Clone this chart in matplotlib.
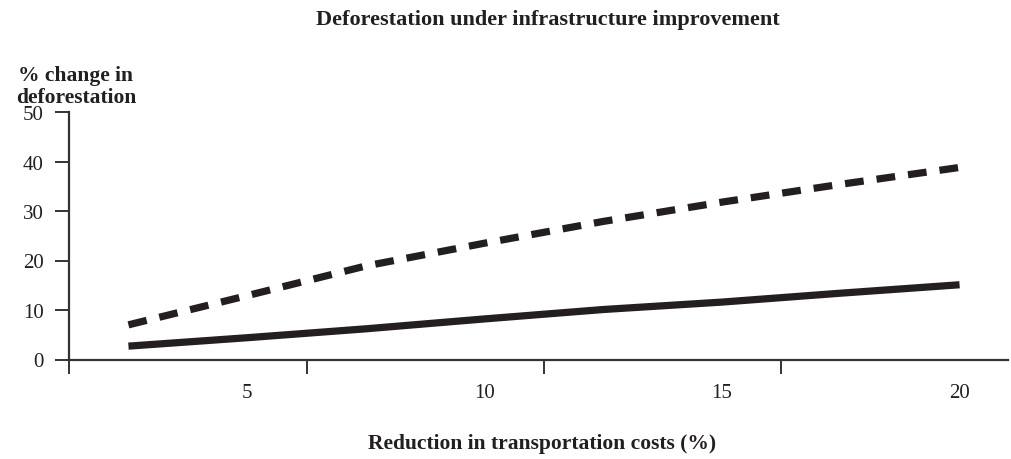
import matplotlib

matplotlib.use("Agg")
import matplotlib.pyplot as plt

# Data
reduction = [2.5, 5, 7.5, 10, 12.5, 15, 17.5, 20]
solid_change = [2.7, 4.4, 6.2, 8.2, 10.1, 11.6, 13.4, 15.1]
dashed_change = [7.0, 12.9, 18.9, 23.5, 27.9, 31.8, 35.4, 38.8]

x_tick_labels = ["5", "10", "15", "20"]
x_label_pos = [5, 10, 15, 20]
x_tick_marks = [1.24, 6.25, 11.25, 16.25]
y_ticks = [0, 10, 20, 30, 40, 50]

INK = "#231f20"
AXIS = "#333333"


def main():
    plt.rcParams["font.family"] = ["Liberation Serif", "DejaVu Serif"]

    fig = plt.figure(figsize=(10.11, 4.6), dpi=100)
    ax = fig.add_axes([68.6 / 1011, (460 - 360.5) / 460,
                       (1008 - 68.6) / 1011, (360.5 - 113) / 460])

    # The two series
    ax.plot(reduction, solid_change, color=INK, linewidth=5.2,
            solid_capstyle="butt", solid_joinstyle="round")
    ax.plot(reduction, dashed_change, color=INK, linewidth=5.2,
            linestyle=(0, (2.6, 1.8)), dash_capstyle="butt")

    ax.set_xlim(1.24, 21.02)
    ax.set_ylim(0, 50)

    # Spines
    for side in ["top", "right"]:
        ax.spines[side].set_visible(False)
    for side in ["left", "bottom"]:
        ax.spines[side].set_color(AXIS)
        ax.spines[side].set_linewidth(1.6)

    # y ticks
    ax.set_yticks(y_ticks)
    ax.tick_params(axis="y", direction="out", length=10, width=1.4,
                   color=AXIS, labelsize=15, pad=8, labelcolor=INK)

    # x ticks: marks between the labels, labels without marks
    ax.set_xticks(x_tick_marks)
    ax.set_xticklabels([""] * len(x_tick_marks))
    ax.set_xticks(x_label_pos, minor=True)
    ax.set_xticklabels(x_tick_labels, minor=True)
    ax.tick_params(axis="x", which="major", direction="out", length=10,
                   width=1.4, color=AXIS)
    ax.tick_params(axis="x", which="minor", length=0, labelsize=15,
                   pad=17, labelcolor=INK)

    # Texts
    fig.text(548 / 1011, 1 - 20 / 460,
             "Deforestation under infrastructure improvement",
             ha="center", va="center", fontsize=16, fontweight="bold",
             color=INK)
    fig.text(76 / 1011, 1 - 87 / 460, "% change in\ndeforestation",
             ha="center", va="center", fontsize=15.5, fontweight="bold",
             color=INK, linespacing=1.1)
    fig.text(542 / 1011, 1 - 444 / 460,
             "Reduction in transportation costs (%)",
             ha="center", va="center", fontsize=15.5, fontweight="bold",
             color=INK)

    fig.savefig("out.png", dpi=100)


if __name__ == "__main__":
    main()
